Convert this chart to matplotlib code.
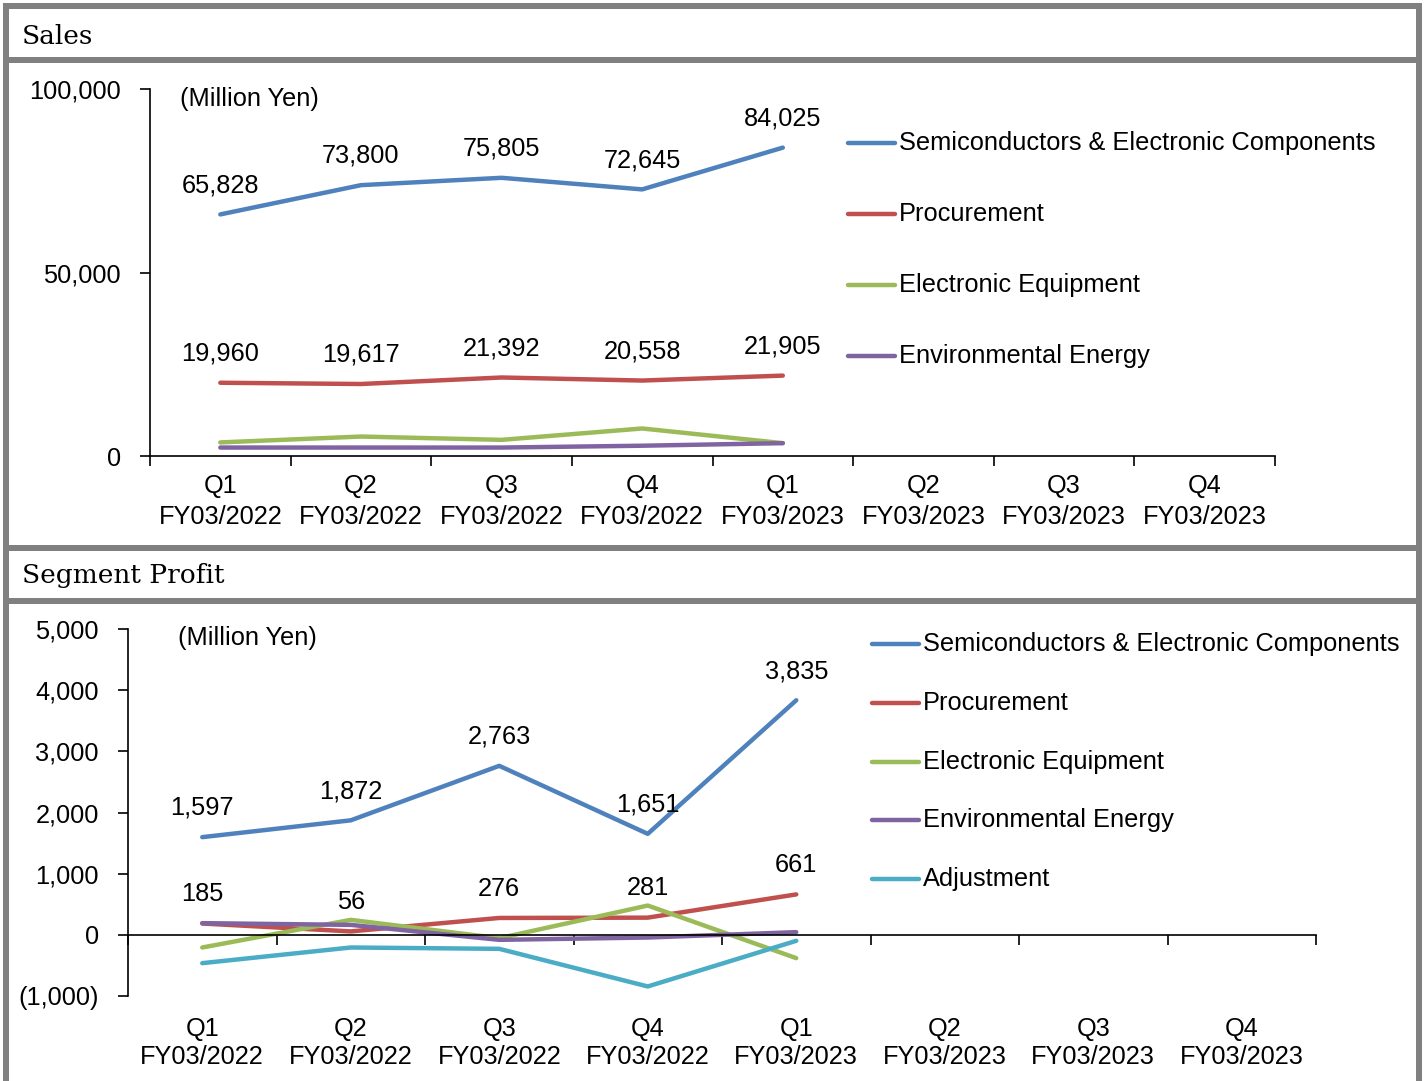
"""Sales and segment profit by quarter."""

import matplotlib
import numpy as np

matplotlib.use("Agg")
import matplotlib.pyplot as plt  # noqa: E402
from matplotlib.lines import Line2D  # noqa: E402
from matplotlib.patches import Rectangle  # noqa: E402
from matplotlib.ticker import FuncFormatter  # noqa: E402

W, H = 1425, 1081

quarters = ["Q1\nFY03/2022", "Q2\nFY03/2022", "Q3\nFY03/2022", "Q4\nFY03/2022",
            "Q1\nFY03/2023", "Q2\nFY03/2023", "Q3\nFY03/2023", "Q4\nFY03/2023"]
sales_names = ["Semiconductors & Electronic Components", "Procurement",
               "Electronic Equipment", "Environmental Energy"]
profit_names = sales_names + ["Adjustment"]
colors = ["#4F81BD", "#C0504D", "#9BBB59", "#8064A2", "#4BACC6"]

sales_semis = [65828, 73800, 75805, 72645, 84025]
sales_procurement = [19960, 19617, 21392, 20558, 21905]
sales_equipment = [3700, 5300, 4400, 7500, 3500]
sales_energy = [2300, 2300, 2300, 2800, 3500]

profit_semis = [1597, 1872, 2763, 1651, 3835]
profit_procurement = [185, 56, 276, 281, 661]
profit_equipment = [-207, 245, -55, 479, -381]
profit_energy = [191, 163, -82, -44, 44]
profit_adjustment = [-463, -207, -229, -844, -98]

plt.rcParams["font.family"] = ["Liberation Sans", "DejaVu Sans"]
plt.rcParams["font.size"] = 18.3


def fx(px):
    return px / W


def fy(py):
    return 1 - py / H


def yen(v, _pos=None):
    return f"({abs(v):,.0f})" if v < 0 else f"{v:,.0f}"


fig = plt.figure(figsize=(W / 100, H / 100), dpi=100)

# gray frame
gray = "#808080"
for x0, y0, x1, y1 in [(3, 3, 9, H), (1416, 3, 1422, H), (3, 3, 1422, 9),
                       (3, 57, 1422, 63), (3, 545, 1422, 551), (3, 598, 1422, 604)]:
    fig.add_artist(Rectangle((fx(x0), fy(y1)), fx(x1) - fx(x0), fy(y0) - fy(y1),
                             transform=fig.transFigure, color=gray, lw=0))

for label, y in [("Sales", 36), ("Segment Profit", 576)]:
    fig.text(fx(22), fy(y), label, family="DejaVu Serif", size=19, va="center")


def setup(ax, ymin, ymax, step, label_pad):
    ax.set_xlim(0, 8)
    ax.set_ylim(ymin, ymax)
    ax.set_yticks(np.arange(ymin, ymax + 1, step))
    ax.yaxis.set_major_formatter(FuncFormatter(yen))
    ax.set_xticks(np.arange(9))
    ax.set_xticklabels([])
    ax.set_xticks(np.arange(8) + 0.5, minor=True)
    ax.set_xticklabels(quarters, minor=True, linespacing=1.35)
    ax.tick_params(which="major", direction="out", length=7, width=1.2)
    ax.tick_params(axis="y", pad=14)
    ax.tick_params(axis="x", which="minor", length=0, pad=label_pad)
    for side in ("top", "right"):
        ax.spines[side].set_visible(False)
    for side in ("left", "bottom"):
        ax.spines[side].set_linewidth(1.2)
    ax.patch.set_alpha(0)


def label_points(ax, xs, values):
    for x, v in zip(xs, values):
        ax.annotate(f"{v:,}", (x, v), xytext=(0, 21), textcoords="offset points",
                    ha="center", va="center")


xs = np.arange(5) + 0.5

# Sales
ax1 = fig.add_axes([fx(150), fy(456), (1275 - 150) / W, (456 - 89) / H])
setup(ax1, 0, 100000, 50000, 13)
for values, c in zip([sales_semis, sales_procurement, sales_equipment, sales_energy], colors):
    ax1.plot(xs, values, color=c, lw=3.2, solid_capstyle="round")
label_points(ax1, xs, sales_semis)
label_points(ax1, xs, sales_procurement)
fig.text(fx(180), fy(99), "(Million Yen)", va="center")
for i, (name, c) in enumerate(zip(sales_names, colors)):
    y = 143 + 71 * i
    fig.add_artist(Line2D([fx(848), fx(895)], [fy(y), fy(y)], transform=fig.transFigure,
                          color=c, lw=3.2, solid_capstyle="round"))
    fig.text(fx(899), fy(y), name, va="center")

# Segment profit
ax2 = fig.add_axes([fx(128), fy(996), (1316 - 128) / W, (996 - 629) / H])
setup(ax2, -1000, 5000, 1000, 59)
ax2.spines["bottom"].set_position(("data", 0))
for values, c in zip([profit_semis, profit_procurement, profit_equipment,
                      profit_energy, profit_adjustment], colors):
    ax2.plot(xs, values, color=c, lw=3.2, solid_capstyle="round")
label_points(ax2, xs, profit_semis)
label_points(ax2, xs, profit_procurement)
fig.text(fx(178), fy(638), "(Million Yen)", va="center")
for i, (name, c) in enumerate(zip(profit_names, colors)):
    y = 644 + 58.8 * i
    fig.add_artist(Line2D([fx(872), fx(919)], [fy(y), fy(y)], transform=fig.transFigure,
                          color=c, lw=3.2, solid_capstyle="round"))
    fig.text(fx(923), fy(y), name, va="center")

fig.savefig("out.png", dpi=100)
